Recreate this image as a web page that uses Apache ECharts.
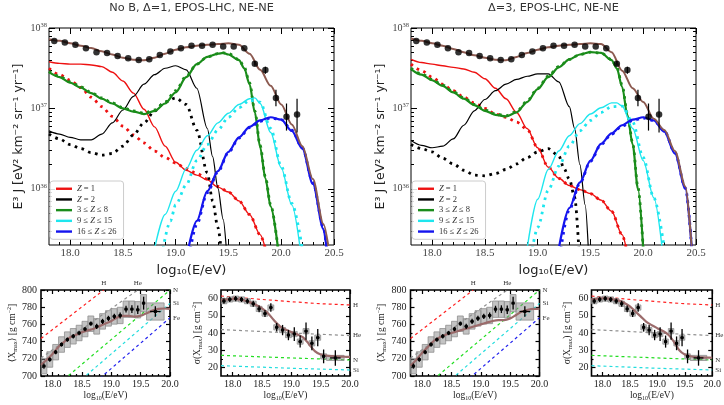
<!DOCTYPE html>
<html>
<head>
<meta charset="utf-8">
<script src="https://cdn.jsdelivr.net/npm/echarts@6/dist/echarts.min.js"></script>
<style>
  html, body { margin: 0; padding: 0; background: #fff; }
  #main { width: 724px; height: 405px; }
</style>
</head>
<body>
<div id="main"></div>
<script>
// ---------- data ----------
// Auger spectrum points (log10 E, E^3 J)
var specLogE = [17.85, 17.95, 18.05, 18.15, 18.25, 18.35, 18.45, 18.55, 18.65, 18.75, 18.85, 18.95,
                19.05, 19.15, 19.25, 19.35, 19.45, 19.55, 19.65, 19.75, 19.85, 19.95, 20.05, 20.15];
var specFlux = [6.9e37, 6.6e37, 6.2e37, 5.6e37, 5.0e37, 4.9e37, 4.5e37, 4.2e37, 4.0e37, 4.1e37, 4.6e37, 5.1e37,
                5.6e37, 6.0e37, 6.0e37, 6.2e37, 5.9e37, 5.9e37, 5.6e37, 3.6e37, 3.0e37, 1.35e37, 7.9e36, 8.4e36];
var specErrLogE = [19.75, 19.85, 19.95, 20.05, 20.15];
var specErrLo = [3.4e37, 2.7e37, 1.06e37, 5.3e36, 5.0e36];
var specErrHi = [3.9e37, 3.3e37, 1.71e37, 1.15e37, 1.32e37];

// panel A: No B, Delta=1
var A_z1 = [[17.8,3.80e37],[17.9,3.63e37],[18.0,3.55e37],[18.1,3.55e37],[18.2,3.47e37],[18.3,3.31e37],[18.4,2.82e37],[18.5,2.19e37],[18.6,1.55e37],[18.7,9.77e36],[18.8,5.89e36],[18.9,3.39e36],[19.0,2.14e36],[19.1,1.70e36],[19.2,1.48e36],[19.3,1.29e36],[19.4,1.05e36],[19.5,9.12e35],[19.6,7.08e35],[19.7,4.79e35],[19.8,2.69e35],[19.85,1.8e35]];
var A_z1dot = [[17.8,3.16e37],[17.9,2.63e37],[18.0,2.24e37],[18.1,1.82e37],[18.2,1.38e37],[18.3,1.05e37],[18.4,7.94e36],[18.5,6.03e36],[18.6,4.68e36],[18.7,3.72e36],[18.8,2.95e36],[18.9,2.45e36],[19.0,2.09e36],[19.1,1.78e36],[19.2,1.55e36],[19.3,1.32e36],[19.4,1.07e36],[19.5,9.12e35],[19.6,7.08e35],[19.7,4.79e35],[19.8,2.69e35],[19.85,1.8e35]];
var A_z2 = [[17.8,5.25e36],[17.9,4.79e36],[18.0,4.37e36],[18.1,4.07e36],[18.2,4.07e36],[18.3,4.79e36],[18.4,6.61e36],[18.5,9.55e36],[18.6,1.41e37],[18.7,2.00e37],[18.8,2.63e37],[18.9,3.16e37],[19.0,3.39e37],[19.1,3.02e37],[19.2,1.78e37],[19.3,5.62e36],[19.35,2.51e36],[19.4,1.02e36],[19.45,4.17e35],[19.48,1.8e35]];
var A_z2dot = [[17.8,4.79e36],[17.9,4.17e36],[18.0,3.55e36],[18.1,3.16e36],[18.2,2.82e36],[18.3,2.63e36],[18.4,2.75e36],[18.5,3.39e36],[18.6,4.68e36],[18.7,6.61e36],[18.8,9.33e36],[18.9,1.20e37],[19.0,1.35e37],[19.1,1.12e37],[19.2,5.37e36],[19.3,1.58e36],[19.35,7.08e35],[19.4,3.31e35],[19.43,1.8e35]];
var A_cno = [[17.8,2.82e37],[17.9,2.45e37],[18.0,2.09e37],[18.1,1.82e37],[18.2,1.55e37],[18.3,1.32e37],[18.4,1.15e37],[18.5,1.00e37],[18.6,9.12e36],[18.7,8.51e36],[18.8,9.33e36],[18.9,1.15e37],[19.0,1.58e37],[19.1,2.45e37],[19.2,3.55e37],[19.3,4.37e37],[19.4,4.79e37],[19.45,4.90e37],[19.5,4.68e37],[19.6,3.98e37],[19.65,3.16e37],[19.7,2.00e37],[19.75,8.91e36],[19.8,3.31e36],[19.85,1.35e36],[19.9,6.03e35],[19.97,1.8e35]];
var A_cnodot = [[17.8,2.88e37],[17.9,2.51e37],[18.0,2.14e37],[18.1,1.86e37],[18.2,1.58e37],[18.3,1.35e37],[18.4,1.17e37],[18.5,1.02e37],[18.6,9.33e36],[18.7,8.71e36],[18.8,9.55e36],[18.9,1.20e37],[19.0,1.66e37],[19.1,2.51e37],[19.2,3.55e37],[19.3,4.37e37],[19.4,4.79e37],[19.45,4.90e37],[19.5,4.79e37],[19.6,4.07e37],[19.65,3.24e37],[19.7,2.09e37],[19.75,9.33e36],[19.8,3.47e36],[19.85,1.41e36],[19.9,6.31e35],[19.97,1.8e35]];
var A_ne = [[18.8,1.8e35],[18.9,4.79e35],[19.0,9.33e35],[19.1,1.78e36],[19.2,3.02e36],[19.3,4.57e36],[19.4,6.61e36],[19.5,8.71e36],[19.6,1.12e37],[19.7,1.32e37],[19.75,1.35e37],[19.8,1.15e37],[19.9,5.01e36],[20.0,1.82e36],[20.1,6.31e35],[20.18,1.8e35]];
var A_nedot = [[18.88,1.8e35],[18.95,3.98e35],[19.0,6.31e35],[19.1,1.12e36],[19.2,2.24e36],[19.3,3.55e36],[19.4,5.37e36],[19.5,7.76e36],[19.6,1.02e37],[19.7,1.26e37],[19.8,1.20e37],[19.9,5.62e36],[20.0,1.91e36],[20.1,6.61e35],[20.2,1.8e35]];
var A_fe = [[19.12,1.8e35],[19.2,3.98e35],[19.3,9.33e35],[19.4,1.66e36],[19.5,2.88e36],[19.6,4.37e36],[19.7,5.89e36],[19.8,7.08e36],[19.9,7.76e36],[20.0,7.24e36],[20.1,5.25e36],[20.2,3.16e36],[20.3,1.15e36],[20.4,3.16e35],[20.43,1.8e35]];
var A_fedot = [[19.14,1.8e35],[19.2,3.63e35],[19.3,8.91e35],[19.4,1.62e36],[19.5,2.82e36],[19.6,4.27e36],[19.7,5.75e36],[19.8,6.92e36],[19.9,7.59e36],[20.0,7.24e36],[20.1,5.37e36],[20.2,3.24e36],[20.3,1.20e36],[20.4,3.31e35],[20.43,1.8e35]];
var A_tot = [[17.8,7.24e37],[17.9,6.92e37],[18.0,6.46e37],[18.1,6.03e37],[18.2,5.62e37],[18.3,5.13e37],[18.4,4.68e37],[18.5,4.27e37],[18.6,4.03e37],[18.7,3.98e37],[18.8,4.27e37],[18.9,4.79e37],[19.0,5.37e37],[19.1,5.75e37],[19.2,6.03e37],[19.3,6.17e37],[19.4,6.31e37],[19.5,6.46e37],[19.6,6.17e37],[19.7,4.79e37],[19.8,3.02e37],[19.9,1.91e37],[20.0,1.12e37],[20.1,6.31e36],[20.2,3.39e36],[20.3,1.32e36],[20.4,3.63e35],[20.45,1.8e35]];

// panel B: Delta=3
var B_z1 = [[17.8,4.07e37],[17.9,3.72e37],[18.0,3.55e37],[18.1,3.39e37],[18.2,3.24e37],[18.3,3.09e37],[18.4,2.82e37],[18.5,2.34e37],[18.6,1.78e37],[18.7,1.32e37],[18.8,8.91e36],[18.9,5.62e36],[19.0,3.24e36],[19.1,1.86e36],[19.2,1.35e36],[19.3,1.10e36],[19.4,9.77e35],[19.5,8.71e35],[19.6,7.24e35],[19.7,5.25e35],[19.8,2.69e35],[19.84,1.8e35]];
var B_z1dot = [[17.8,3.55e37],[17.9,2.95e37],[18.0,2.45e37],[18.1,2.00e37],[18.2,1.66e37],[18.3,1.38e37],[18.4,1.17e37],[18.5,1.00e37],[18.6,8.51e36],[18.7,7.76e36],[18.8,6.76e36],[18.9,5.50e36],[19.0,3.24e36],[19.1,1.86e36],[19.2,1.35e36],[19.3,1.10e36],[19.4,9.77e35],[19.5,8.71e35],[19.6,7.24e35],[19.7,5.25e35],[19.8,2.69e35],[19.84,1.8e35]];
var B_z2 = [[17.8,3.98e36],[17.9,3.47e36],[18.0,3.24e36],[18.1,3.39e36],[18.2,4.17e36],[18.3,6.17e36],[18.4,9.33e36],[18.5,1.29e37],[18.6,1.66e37],[18.7,2.00e37],[18.8,2.29e37],[18.9,2.51e37],[19.0,2.69e37],[19.1,2.69e37],[19.2,2.14e37],[19.3,1.05e37],[19.35,5.62e36],[19.4,2.00e36],[19.45,6.31e35],[19.48,1.8e35]];
var B_z2dot = [[17.8,3.55e36],[17.9,3.16e36],[18.0,2.88e36],[18.1,2.40e36],[18.2,2.04e36],[18.3,1.70e36],[18.4,1.48e36],[18.5,1.45e36],[18.6,1.55e36],[18.7,1.74e36],[18.8,2.04e36],[18.9,2.45e36],[19.0,2.88e36],[19.1,3.16e36],[19.2,2.57e36],[19.25,1.78e36],[19.3,1.32e36],[19.35,7.94e35],[19.39,1.8e35]];
var B_cno = [[17.8,3.09e37],[17.9,2.63e37],[18.0,2.24e37],[18.1,1.91e37],[18.2,1.58e37],[18.3,1.32e37],[18.4,1.10e37],[18.5,9.33e36],[18.6,8.32e36],[18.7,7.94e36],[18.8,8.91e36],[18.9,1.20e37],[19.0,1.74e37],[19.1,2.45e37],[19.2,3.24e37],[19.3,4.07e37],[19.4,4.68e37],[19.5,5.01e37],[19.6,4.90e37],[19.7,3.98e37],[19.75,3.16e37],[19.8,1.86e37],[19.85,8.32e36],[19.9,3.55e36],[19.95,1.00e36],[20.0,1.8e35]];
var B_cnodot = [[17.8,3.16e37],[17.9,2.69e37],[18.0,2.29e37],[18.1,1.95e37],[18.2,1.62e37],[18.3,1.35e37],[18.4,1.12e37],[18.5,9.55e36],[18.6,8.51e36],[18.7,8.13e36],[18.8,9.12e36],[18.9,1.23e37],[19.0,1.78e37],[19.1,2.51e37],[19.2,3.31e37],[19.3,4.07e37],[19.4,4.68e37],[19.5,5.01e37],[19.6,4.90e37],[19.7,4.07e37],[19.75,3.24e37],[19.8,1.95e37],[19.85,8.71e36],[19.9,3.72e36],[19.95,1.05e36],[20.0,1.8e35]];
var B_ne = [[18.9,1.8e35],[19.0,7.41e35],[19.1,1.74e36],[19.2,2.95e36],[19.3,4.57e36],[19.4,6.46e36],[19.5,8.51e36],[19.6,1.02e37],[19.7,1.17e37],[19.75,1.17e37],[19.8,1.07e37],[19.9,5.62e36],[20.0,2.24e36],[20.1,7.76e35],[20.18,1.8e35]];
var B_nedot = [[18.95,1.8e35],[19.0,3.31e35],[19.1,9.55e35],[19.2,1.91e36],[19.3,3.39e36],[19.4,5.25e36],[19.5,7.08e36],[19.6,8.91e36],[19.7,1.05e37],[19.8,1.07e37],[19.9,6.76e36],[20.0,2.45e36],[20.1,7.76e35],[20.2,1.8e35]];
var B_fe = [[19.2,1.8e35],[19.3,5.75e35],[19.4,1.20e36],[19.5,2.24e36],[19.6,3.63e36],[19.7,4.90e36],[19.8,6.17e36],[19.9,7.24e36],[20.0,7.76e36],[20.1,7.08e36],[20.2,5.13e36],[20.3,2.75e36],[20.4,1.00e36],[20.46,1.8e35]];
var B_fedot = [[19.22,1.8e35],[19.3,5.50e35],[19.4,1.17e36],[19.5,2.19e36],[19.6,3.55e36],[19.7,4.79e36],[19.8,6.03e36],[19.9,7.08e36],[20.0,7.59e36],[20.1,7.08e36],[20.2,5.25e36],[20.3,2.82e36],[20.4,1.02e36],[20.46,1.8e35]];
var B_tot = [[17.8,7.41e37],[17.9,6.92e37],[18.0,6.46e37],[18.1,6.03e37],[18.2,5.50e37],[18.3,5.01e37],[18.4,4.57e37],[18.5,4.27e37],[18.6,4.03e37],[18.7,3.98e37],[18.8,4.37e37],[18.9,4.90e37],[19.0,5.37e37],[19.1,5.75e37],[19.2,6.03e37],[19.3,6.17e37],[19.4,6.31e37],[19.5,6.46e37],[19.6,6.31e37],[19.7,5.01e37],[19.8,2.95e37],[19.9,1.78e37],[20.0,1.20e37],[20.1,7.41e36],[20.2,5.37e36],[20.3,2.95e36],[20.4,1.07e36],[20.46,1.8e35]];

// Xmax and sigma(Xmax) data
var xmaxLogE = [17.85, 17.95, 18.05, 18.15, 18.25, 18.35, 18.45, 18.55, 18.65, 18.75, 18.85, 18.95, 19.05, 19.15, 19.25, 19.35, 19.45, 19.55, 19.75];
var xmaxBinHalf = [0.05, 0.05, 0.05, 0.05, 0.05, 0.05, 0.05, 0.05, 0.05, 0.05, 0.05, 0.05, 0.05, 0.05, 0.05, 0.05, 0.05, 0.05, 0.15];
var xmaxMean = [711.5, 719.2, 727.7, 736.6, 742.3, 746.2, 750, 754.6, 760.8, 757.7, 763.5, 767, 769.3, 770.4, 777.7, 777.7, 777, 784.7, 775];
var xmaxStat = [3, 2.5, 2.5, 2.5, 2.5, 2.5, 2.5, 2.5, 2.5, 3, 3, 3, 3, 3.5, 4, 4.5, 5, 7.5, 6];
var xmaxSys = [9, 9, 9, 9, 9, 9, 9, 9, 9, 9, 9, 9, 9, 9.5, 9.5, 9.5, 9.5, 10, 10];
var sigMean = [58.5, 59.5, 60, 59.5, 58.5, 57, 54, 51.3, 54.8, 43.3, 41.7, 38.8, 39.4, 35, 41.1, 34, 37.3, 26.4, 25.5];
var sigStat = [1.5, 1.5, 1.5, 1.5, 1.5, 1.8, 2, 2, 2.5, 2.5, 3, 3, 4, 3.5, 5, 4, 5, 4, 4.5];
var sigSys = [1.5, 1.5, 1.5, 1.5, 1.5, 1.5, 1.5, 1.5, 1.5, 1.5, 1.5, 1.5, 1.5, 1.5, 1.5, 1.5, 1.5, 1.5, 1.5];

var eposXmaxH = [[17.8, 743.6], [18.87, 800]];
var eposXmaxHe = [[17.8, 721], [19.45, 800]];
var eposXmaxN = [[17.8, 673.5], [20.0, 800]];
var eposXmaxSi = [[17.8, 655.5], [20.0, 784.4]];
var eposXmaxFe = [[17.8, 638.2], [20.0, 767.7]];
var eposSigH = [[17.8, 61.5], [18.5, 59.5], [19.0, 58.2], [19.5, 57.0], [20.0, 56.3]];
var eposSigHe = [[17.8, 42.0], [19.0, 40.0], [20.0, 38.5]];
var eposSigN = [[17.8, 27.0], [19.0, 25.5], [20.0, 24.3]];
var eposSigSi = [[17.8, 21.0], [19.0, 19.5], [20.0, 18.5]];

var modelXmaxA = [[17.8,713],[17.9,719],[18.0,726],[18.1,734],[18.2,740],[18.3,745],[18.4,748],[18.5,751],[18.6,753],[18.7,755],[18.8,758],[18.9,761],[19.0,764],[19.1,768],[19.2,770],[19.3,770],[19.4,769],[19.5,770],[19.6,773],[19.7,776],[19.8,778],[19.9,778.5],[20.0,778]];
var modelXmaxB = [[17.8,712],[17.9,719],[18.0,727],[18.1,734],[18.2,741],[18.3,745],[18.4,748],[18.5,750],[18.6,752],[18.7,754],[18.8,756],[18.9,758],[19.0,760],[19.1,762],[19.2,764],[19.3,765],[19.4,765],[19.5,767],[19.6,771],[19.7,775],[19.8,777],[19.9,778],[20.0,778]];
var modelSigA = [[17.8,59.0],[17.9,59.5],[18.0,59.8],[18.1,59.6],[18.2,58.9],[18.3,57.8],[18.4,56.3],[18.5,54.3],[18.6,51.5],[18.7,47.5],[18.8,44.0],[18.9,42.0],[19.0,40.5],[19.1,39.2],[19.2,37.5],[19.3,33.5],[19.4,29.5],[19.5,27.5],[19.6,26.8],[19.7,26.5],[19.8,26.3],[19.9,26.2],[20.0,26.1]];
var modelSigB = [[17.8,59.5],[17.9,60.0],[18.0,60.2],[18.1,60.0],[18.2,59.5],[18.3,58.8],[18.4,57.5],[18.5,55.5],[18.6,52.5],[18.7,49.5],[18.8,46.5],[18.9,44.5],[19.0,42.8],[19.1,41.2],[19.2,39.0],[19.3,35.0],[19.4,30.0],[19.5,27.5],[19.6,26.5],[19.7,26.0],[19.8,25.8],[19.9,25.7],[20.0,25.6]];

// tick values
var eTicksTop = [18.0, 18.5, 19.0, 19.5, 20.0, 20.5];
var eMinorTop = [17.9, 18.1, 18.2, 18.3, 18.4, 18.6, 18.7, 18.8, 18.9, 19.1, 19.2, 19.3, 19.4, 19.6, 19.7, 19.8, 19.9, 20.1, 20.2, 20.3, 20.4];
var fluxTicks = [1e36, 1e37, 1e38];
var fluxMinor = [3e35, 4e35, 5e35, 6e35, 7e35, 8e35, 9e35, 2e36, 3e36, 4e36, 5e36, 6e36, 7e36, 8e36, 9e36, 2e37, 3e37, 4e37, 5e37, 6e37, 7e37, 8e37, 9e37];
var eTicksBot = [18.0, 18.5, 19.0, 19.5, 20.0];
var eMinorBot = [17.9, 18.1, 18.2, 18.3, 18.4, 18.6, 18.7, 18.8, 18.9, 19.1, 19.2, 19.3, 19.4, 19.6, 19.7, 19.8, 19.9];
var xmaxTicks = [700, 720, 740, 760, 780, 800];
var xmaxMinor = [710, 730, 750, 770, 790];
var sigTicks = [20, 30, 40, 50, 60];
var sigMinor = [25, 35, 45, 55];

var legendNames = ['Z = 1', 'Z = 2', '3 ≤ Z ≤ 8', '9 ≤ Z ≤ 15', '16 ≤ Z ≤ 26'];

// ---------- chart ----------
var serif = "'Liberation Serif','DejaVu Serif',serif";
var sans = "'DejaVu Sans',sans-serif";
var chart = echarts.init(document.getElementById('main'));

var grids = [], xAxes = [], yAxes = [], series = [];

function panel(rect, bw, xs, ys) {
  grids.push({left: rect[0], top: rect[1], width: rect[2], height: rect[3], show: true,
              borderColor: '#000', borderWidth: bw, backgroundColor: 'rgba(0,0,0,0)'});
  var gi = grids.length - 1;
  var xi = xAxes.length, yi = yAxes.length;
  function mk(s, pos, ticks, len, withLabel) {
    var ax = {
      gridIndex: gi, type: s.type || 'value', min: s.min, max: s.max, position: pos,
      axisLine: {show: false, onZero: false}, splitLine: {show: false},
      axisTick: {show: true, inside: true, length: len, customValues: ticks, lineStyle: {color: '#000', width: s.tw}},
      axisLabel: {show: false}, silent: true
    };
    if (s.type === 'log') ax.logBase = 10;
    if (withLabel) {
      ax.axisLabel = Object.assign({show: true, customValues: s.labels}, s.label);
      Object.assign(ax, s.nameOpt);
    }
    return ax;
  }
  xAxes.push(mk(xs, 'bottom', xs.major, xs.len, true), mk(xs, 'bottom', xs.minor, xs.len / 2, false),
             mk(xs, 'top', xs.major, xs.len, false), mk(xs, 'top', xs.minor, xs.len / 2, false));
  yAxes.push(mk(ys, 'left', ys.major, ys.len, true), mk(ys, 'left', ys.minor, ys.len / 2, false),
             mk(ys, 'right', ys.major, ys.len, false), mk(ys, 'right', ys.minor, ys.len / 2, false));
  return {x: xi, y: yi};
}

var topX = {
  min: 17.8, max: 20.5, major: eTicksTop, minor: eMinorTop, labels: eTicksTop, len: 6, tw: 1,
  label: {formatter: function (v) { return v.toFixed(1); }, fontFamily: serif, fontSize: 11, color: '#444', margin: 3},
  nameOpt: {name: 'log₁₀(E/eV)', nameLocation: 'middle', nameGap: 15,
            nameTextStyle: {fontFamily: sans, fontSize: 13, color: '#222'}}
};
function topY() {
  return {
    type: 'log', min: 2e35, max: 1e38, major: fluxTicks, minor: fluxMinor, labels: fluxTicks, len: 6, tw: 1,
    label: {formatter: function (v) { return '10{s|' + Math.round(Math.log10(v)) + '}'; },
            fontFamily: serif, fontSize: 10, color: '#444', margin: 2, lineHeight: 13,
            rich: {s: {fontFamily: serif, fontSize: 6.5, color: '#444', verticalAlign: 'top', lineHeight: 7}}},
    nameOpt: {name: 'E³ J [eV² km⁻² sr⁻¹ yr⁻¹]', nameLocation: 'middle', nameGap: 24, nameRotate: 90,
              nameTextStyle: {fontFamily: sans, fontSize: 12.5, color: '#222'}}
  };
}
var subRich = {
  sub: {fontFamily: serif, fontSize: 6, color: '#222', verticalAlign: 'bottom', lineHeight: 6},
  sup: {fontFamily: serif, fontSize: 6, color: '#222', verticalAlign: 'top', lineHeight: 6}
};
var botX = {
  min: 17.8, max: 20.0, major: eTicksBot, minor: eMinorBot, labels: eTicksBot, len: 4, tw: 1.2,
  label: {formatter: function (v) { return v.toFixed(1); }, fontFamily: serif, fontSize: 10, color: '#222', margin: 3},
  nameOpt: {name: 'log{sub|10}(E/eV)', nameLocation: 'middle', nameGap: 12,
            nameTextStyle: {fontFamily: serif, fontSize: 9.5, color: '#222', lineHeight: 12, rich: subRich}}
};
var xmaxY = {
  min: 700, max: 800, major: xmaxTicks, minor: xmaxMinor, labels: xmaxTicks, len: 4, tw: 1.2,
  label: {fontFamily: serif, fontSize: 10, color: '#222', margin: 4},
  nameOpt: {name: '⟨X{sub|max}⟩ [g cm{sup|−2}]', nameLocation: 'middle', nameGap: 22, nameRotate: 90,
            nameTextStyle: {fontFamily: serif, fontSize: 9.5, color: '#222', lineHeight: 12, rich: subRich}}
};
var sigY = {
  min: 15, max: 65, major: sigTicks, minor: sigMinor, labels: sigTicks, len: 4, tw: 1.2,
  label: {fontFamily: serif, fontSize: 10, color: '#222', margin: 3},
  nameOpt: {name: 'σ(X{sub|max}) [g cm{sup|−2}]', nameLocation: 'middle', nameGap: 18, nameRotate: 90,
            nameTextStyle: {fontFamily: serif, fontSize: 9.5, color: '#222', lineHeight: 12, rich: subRich}}
};

function line(name, data, ax, color, width, dotted, z) {
  return {type: 'line', name: name, data: data, xAxisIndex: ax.x, yAxisIndex: ax.y,
          symbol: 'none', smooth: 0.3, smoothMonotone: 'x', clip: true, silent: true, z: z || 2,
          lineStyle: {color: color, width: width, type: dotted ? [2.6, 4.6] : 'solid', cap: 'butt'},
          itemStyle: {color: color}};
}

var C = {red: '#ee1111', black: '#000000', green: '#1a8c1a', cyan: '#1ee6ee', blue: '#1515ee', brown: '#8c5a50'};

function spectrumPanel(ax, P) {
  series.push(
    line(legendNames[0], P.z1, ax, C.red, 1.4, false),
    line('z1 dotted', P.z1dot, ax, C.red, 2.8, true),
    line(legendNames[1], P.z2, ax, C.black, 1.2, false),
    line('z2 dotted', P.z2dot, ax, C.black, 2.8, true),
    line(legendNames[2], P.cno, ax, C.green, 2.2, false),
    line('cno dotted', P.cnodot, ax, C.green, 2.8, true),
    line(legendNames[3], P.ne, ax, C.cyan, 1.4, false),
    line('ne dotted', P.nedot, ax, C.cyan, 2.8, true),
    line(legendNames[4], P.fe, ax, C.blue, 2.2, false),
    line('fe dotted', P.fedot, ax, C.blue, 2.8, true),
    line('total', P.tot, ax, C.brown, 2, false, 3),
    {type: 'custom', name: 'err', xAxisIndex: ax.x, yAxisIndex: ax.y, silent: true, z: 4, clip: true,
     data: specErrLogE.map(function (x, i) { return [x, specErrLo[i], specErrHi[i]]; }),
     encode: {x: 0, y: [1, 2]},
     renderItem: function (params, api) {
       var a = api.coord([api.value(0), api.value(1)]);
       var b = api.coord([api.value(0), api.value(2)]);
       return {type: 'line', shape: {x1: a[0], y1: a[1], x2: b[0], y2: b[1]}, style: {stroke: '#000', lineWidth: 1.2}};
     }},
    {type: 'scatter', name: 'data', xAxisIndex: ax.x, yAxisIndex: ax.y, silent: true, z: 5,
     symbol: 'circle', symbolSize: 6.5, itemStyle: {color: '#000'},
     data: specLogE.map(function (x, i) { return [x, specFlux[i]]; })}
  );
}

function refLine(data, ax, color, label, pos) {
  var s = {type: 'line', data: data, xAxisIndex: ax.x, yAxisIndex: ax.y, symbol: 'none', clip: true, silent: true, z: 2,
           lineStyle: {color: color, width: 1.2, type: [3, 3]}};
  if (label) {
    s.markPoint = {symbol: 'circle', symbolSize: 0, silent: true, animation: false,
                   label: {show: true, formatter: label, position: pos, distance: 3,
                           fontFamily: serif, fontSize: 7, color: '#333'},
                   data: [{coord: data[data.length - 1]}]};
  }
  return s;
}

function compositionPanel(ax, mean, stat, sys, model) {
  var pts = xmaxLogE.map(function (x, i) { return [x, mean[i], stat[i], sys[i], xmaxBinHalf[i]]; });
  series.push(
    {type: 'custom', xAxisIndex: ax.x, yAxisIndex: ax.y, silent: true, z: 3, clip: true, data: pts,
     encode: {x: 0, y: 1},
     renderItem: function (params, api) {
       var x = api.value(0), y = api.value(1), sy = api.value(3), hw = api.value(4);
       var a = api.coord([x - hw, y + sy]), b = api.coord([x + hw, y - sy]);
       return {type: 'rect', shape: {x: a[0], y: a[1], width: b[0] - a[0], height: b[1] - a[1]},
               style: {fill: 'rgba(135,135,135,0.5)', stroke: '#8f8f8f', lineWidth: 0.8}};
     }},
    {type: 'line', data: model, xAxisIndex: ax.x, yAxisIndex: ax.y, symbol: 'none', smooth: 0.3, clip: true,
     silent: true, z: 4, lineStyle: {color: '#9b6b6b', width: 2.2}},
    {type: 'custom', xAxisIndex: ax.x, yAxisIndex: ax.y, silent: true, z: 5, clip: true, data: pts,
     encode: {x: 0, y: 1},
     renderItem: function (params, api) {
       var x = api.value(0), y = api.value(1), st = api.value(2), hw = api.value(4) * 0.6;
       var t = api.coord([x, y + st]), b = api.coord([x, y - st]);
       var l = api.coord([x - hw, y]), r = api.coord([x + hw, y]), c = api.coord([x, y]);
       return {type: 'group', children: [
         {type: 'line', shape: {x1: t[0], y1: t[1], x2: b[0], y2: b[1]}, style: {stroke: '#000', lineWidth: 1.3}},
         {type: 'line', shape: {x1: l[0], y1: l[1], x2: r[0], y2: r[1]}, style: {stroke: '#000', lineWidth: 1.3}},
         {type: 'rect', shape: {x: c[0] - 1.5, y: c[1] - 1.5, width: 3, height: 3}, style: {fill: '#000'}}
       ]};
     }}
  );
}

// top panels
var axA = panel([49, 28, 285, 217], 1, topX, topY());
var axB = panel([411, 28, 285, 217], 1, topX, topY());
spectrumPanel(axA, {z1: A_z1, z1dot: A_z1dot, z2: A_z2, z2dot: A_z2dot, cno: A_cno, cnodot: A_cnodot,
                    ne: A_ne, nedot: A_nedot, fe: A_fe, fedot: A_fedot, tot: A_tot});
spectrumPanel(axB, {z1: B_z1, z1dot: B_z1dot, z2: B_z2, z2dot: B_z2dot, cno: B_cno, cnodot: B_cnodot,
                    ne: B_ne, nedot: B_nedot, fe: B_fe, fedot: B_fedot, tot: B_tot});

// bottom panels
[[41, modelXmaxA, modelSigA, 221], [410.5, modelXmaxB, modelSigB, 591.5]].forEach(function (cfg) {
  var axX = panel([cfg[0], 290, 129, 86], 1.6, botX, xmaxY);
  series.push(
    refLine(eposXmaxH, axX, '#ff2020', 'H', 'top'),
    refLine(eposXmaxHe, axX, '#909090', 'He', 'top'),
    refLine(eposXmaxN, axX, '#22dd22', 'N', 'right'),
    refLine(eposXmaxSi, axX, '#22dddd', 'Si', 'right'),
    refLine(eposXmaxFe, axX, '#2222ee', 'Fe', 'right')
  );
  compositionPanel(axX, xmaxMean, xmaxStat, xmaxSys, cfg[1]);
  var axS = panel([cfg[3], 290, 129, 86], 1.6, botX, sigY);
  series.push(
    refLine(eposSigH, axS, '#ff2020', 'H', 'right'),
    refLine(eposSigHe, axS, '#909090', 'He', 'right'),
    refLine(eposSigN, axS, '#22dd22', 'N', 'right'),
    refLine(eposSigSi, axS, '#22dddd', 'Si', 'right')
  );
  compositionPanel(axS, sigMean, sigStat, sigSys, cfg[2]);
});

function legendAt(left) {
  return {
    data: legendNames, left: left, top: 181, orient: 'vertical', selectedMode: false,
    icon: 'rect', itemWidth: 16, itemHeight: 2.4, itemGap: 1.2, padding: [3, 7, 3, 6],
    backgroundColor: 'rgba(255,255,255,0.85)', borderColor: '#cccccc', borderWidth: 1, borderRadius: 3,
    formatter: function (n) { return n.replace(/Z/g, '{i|Z}'); },
    textStyle: {fontFamily: serif, fontSize: 8.5, color: '#333', lineHeight: 9.5,
                rich: {i: {fontFamily: serif, fontStyle: 'italic', fontSize: 8.5, color: '#333'}}},
    z: 10
  };
}

chart.setOption({
  animation: false,
  backgroundColor: '#fff',
  grid: grids,
  xAxis: xAxes,
  yAxis: yAxes,
  legend: [legendAt(50), legendAt(412)],
  graphic: [
    {type: 'text', x: 191.5, y: 3, silent: true,
     style: {text: 'No B, Δ=1, EPOS-LHC, NE-NE', textAlign: 'center', textVerticalAlign: 'top',
             font: '11.3px ' + sans, fill: '#333'}},
    {type: 'text', x: 553.5, y: 3, silent: true,
     style: {text: 'Δ=3, EPOS-LHC, NE-NE', textAlign: 'center', textVerticalAlign: 'top',
             font: '11.3px ' + sans, fill: '#333'}}
  ],
  series: series
});
</script>
</body>
</html>
